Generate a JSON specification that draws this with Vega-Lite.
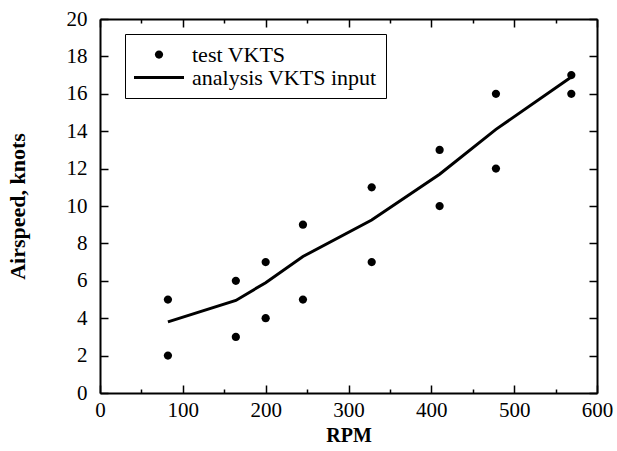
{
  "$schema": "https://vega.github.io/schema/vega-lite/v6.json",
  "width": 497,
  "height": 374,
  "autosize": {"type": "none"},
  "padding": {"left": 100, "top": 19, "right": 20, "bottom": 58},
  "background": "white",
  "config": {
    "font": "Liberation Serif",
    "view": {"stroke": null},
    "axis": {
      "domainColor": "black", "domainWidth": 2, "tickColor": "black", "tickWidth": 1.5,
      "grid": false, "labelFont": "Liberation Serif", "labelFontSize": 21, "labelColor": "black",
      "titleFont": "Liberation Serif", "titleFontSize": 20, "titleFontWeight": "bold", "titleColor": "black"
    },
    "legend": {"labelFont": "Liberation Serif"}
  },
  "datasets": {
    "test": [
      {"rpm": 82, "vkts": 5, "series": "test VKTS"},
      {"rpm": 82, "vkts": 2, "series": "test VKTS"},
      {"rpm": 164, "vkts": 6, "series": "test VKTS"},
      {"rpm": 164, "vkts": 3, "series": "test VKTS"},
      {"rpm": 200, "vkts": 7, "series": "test VKTS"},
      {"rpm": 200, "vkts": 4, "series": "test VKTS"},
      {"rpm": 245, "vkts": 9, "series": "test VKTS"},
      {"rpm": 245, "vkts": 5, "series": "test VKTS"},
      {"rpm": 328, "vkts": 11, "series": "test VKTS"},
      {"rpm": 328, "vkts": 7, "series": "test VKTS"},
      {"rpm": 410, "vkts": 13, "series": "test VKTS"},
      {"rpm": 410, "vkts": 10, "series": "test VKTS"},
      {"rpm": 478, "vkts": 16, "series": "test VKTS"},
      {"rpm": 478, "vkts": 12, "series": "test VKTS"},
      {"rpm": 569, "vkts": 17, "series": "test VKTS"},
      {"rpm": 569, "vkts": 16, "series": "test VKTS"}
    ],
    "analysis": [
      {"rpm": 82, "vkts": 3.8},
      {"rpm": 164, "vkts": 4.95},
      {"rpm": 200, "vkts": 5.9},
      {"rpm": 245, "vkts": 7.3},
      {"rpm": 328, "vkts": 9.25},
      {"rpm": 410, "vkts": 11.7},
      {"rpm": 478, "vkts": 14.1},
      {"rpm": 569, "vkts": 16.9}
    ]
  },
  "layer": [
    {
      "data": {"name": "test"},
      "mark": {"type": "point", "filled": true, "fill": "black", "strokeWidth": 0, "size": 2500, "opacity": 1},
      "encoding": {
        "x": {
          "field": "rpm", "type": "quantitative",
          "scale": {"domain": [0, 600], "nice": false, "zero": false},
          "axis": {"orient": "bottom", "values": [0, 100, 200, 300, 400, 500, 600], "tickSize": -8, "labelPadding": 14, "title": "RPM", "titlePadding": 5, "labelFlush": false}
        },
        "y": {
          "field": "vkts", "type": "quantitative",
          "scale": {"domain": [0, 20], "nice": false, "zero": false},
          "axis": {"orient": "left", "values": [0, 2, 4, 6, 8, 10, 12, 14, 16, 18, 20], "tickSize": -8, "labelPadding": 21, "title": "Airspeed, knots", "titleFontSize": 22, "titlePadding": 37, "labelFlush": false}
        },
        "shape": {
          "field": "series", "type": "nominal",
          "scale": {"domain": ["test VKTS", "analysis VKTS input"], "range": ["M-0.165,0A0.165,0.165 0 1,1 0.165,0A0.165,0.165 0 1,1 -0.165,0Z", "M-1,-0.06H1V0.06H-1Z"]},
          "legend": {
            "orient": "none", "legendX": 25, "legendY": 15, "title": null,
            "padding": 9, "strokeColor": "black", "fillColor": "white",
            "labelFont": "Liberation Serif", "labelFontSize": 22, "labelColor": "black", "labelOffset": 8, "labelLimit": 400,
            "clipHeight": 23, "rowPadding": 0, "symbolSize": 2500, "symbolStrokeWidth": 0,
            "symbolFillColor": "black", "symbolOpacity": 1
          }
        }
      }
    },
    {
      "data": {"name": "analysis"},
      "mark": {"type": "line", "color": "black", "strokeWidth": 3},
      "encoding": {
        "x": {"field": "rpm", "type": "quantitative", "axis": {"orient": "top", "values": [0, 100, 200, 300, 400, 500, 600], "tickSize": -8, "labels": false, "title": null}},
        "y": {"field": "vkts", "type": "quantitative", "axis": {"orient": "right", "values": [0, 2, 4, 6, 8, 10, 12, 14, 16, 18, 20], "tickSize": -8, "labels": false, "title": null}}
      }
    },
    {
      "data": {"name": "test"},
      "mark": {"type": "point", "opacity": 0},
      "encoding": {
        "x": {"field": "rpm", "type": "quantitative", "axis": {"orient": "bottom", "values": [50, 150, 250, 350, 450, 550], "tickSize": -4, "labels": false, "domain": false, "title": null}},
        "y": {"field": "vkts", "type": "quantitative", "axis": null}
      }
    },
    {
      "data": {"name": "test"},
      "mark": {"type": "point", "opacity": 0},
      "encoding": {
        "x": {"field": "rpm", "type": "quantitative", "axis": {"orient": "top", "values": [50, 150, 250, 350, 450, 550], "tickSize": -4, "labels": false, "domain": false, "title": null}},
        "y": {"field": "vkts", "type": "quantitative", "axis": null}
      }
    }
  ],
  "resolve": {"axis": {"x": "independent", "y": "independent"}}
}
